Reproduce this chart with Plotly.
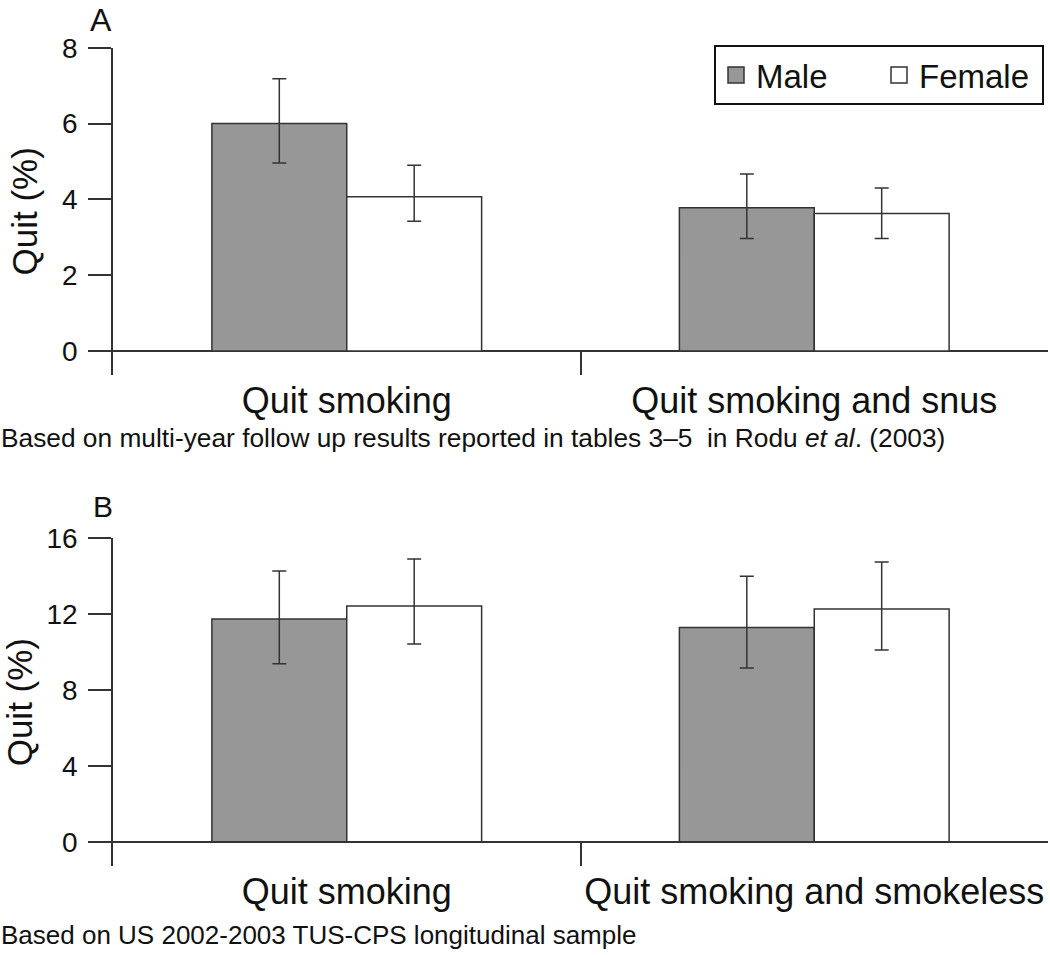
import plotly.graph_objects as go

# ---------------- data ----------------
groups = ["Male", "Female"]
cats_a = ["Quit smoking", "Quit smoking and snus"]
male_a = [6.0, 3.78]
male_a_upper = [7.18, 4.67]
male_a_lower = [4.96, 2.97]
female_a = [4.07, 3.63]
female_a_upper = [4.90, 4.30]
female_a_lower = [3.42, 2.97]

cats_b = ["Quit smoking", "Quit smoking and smokeless"]
male_b = [11.75, 11.29]
male_b_upper = [14.28, 14.00]
male_b_lower = [9.39, 9.16]
female_b = [12.43, 12.27]
female_b_upper = [14.91, 14.75]
female_b_lower = [10.43, 10.11]

yticks_a = [0, 2, 4, 6, 8]
yticks_b = [0, 4, 8, 12, 16]

caption_a = "Based on multi-year follow up results reported in tables 3\u20135\u00a0 in Rodu <i>et al</i>. (2003)"
caption_b = "Based on US 2002-2003 TUS-CPS longitudinal sample"

# ---------------- style ----------------
FONT = "Liberation Sans, Arial, Helvetica, sans-serif"
DARK = "#333333"
TXT = "#111111"
MALE_FILL = "#979797"
FEMALE_FILL = "#ffffff"
fills = {"Male": MALE_FILL, "Female": FEMALE_FILL}

W, H = 1050.0, 955.0
L, R = 113, 2
W_PLOT = W - L - R


def px_x(px):
    return (px - L) / W_PLOT


def py(px):
    return 1 - px / H


fig = go.Figure()


def add_bars(cats, vals, upper, lower, name, xa, ya):
    plus = [u - v for u, v in zip(upper, vals)]
    minus = [v - l for v, l in zip(vals, lower)]
    fig.add_trace(go.Bar(
        x=cats, y=vals, name=name, legendgroup=name, showlegend=False,
        marker=dict(color=fills[name], line=dict(color=DARK, width=1.5)),
        error_y=dict(type="data", symmetric=False, array=plus, arrayminus=minus,
                     color=DARK, thickness=1.5, width=7),
        xaxis=xa, yaxis=ya,
    ))


add_bars(cats_a, male_a, male_a_upper, male_a_lower, groups[0], "x", "y")
add_bars(cats_a, female_a, female_a_upper, female_a_lower, groups[1], "x", "y")
add_bars(cats_b, male_b, male_b_upper, male_b_lower, groups[0], "x2", "y2")
add_bars(cats_b, female_b, female_b_upper, female_b_lower, groups[1], "x2", "y2")

# legend entries (larger square swatches than the default bar icon)
for g in groups:
    fig.add_trace(go.Scatter(
        x=[None], y=[None], mode="markers", name=g, legendgroup=g, showlegend=True,
        marker=dict(symbol="square", size=16, color=fills[g], line=dict(color=DARK, width=1.5)),
        xaxis="x", yaxis="y", hoverinfo="skip",
    ))

xaxis_common = dict(
    type="category", range=[-0.5, 1.5], showline=False, showgrid=False, zeroline=False,
    ticks="inside", tickson="boundaries", ticklen=24, tickwidth=1.5, tickcolor=DARK,
    tickfont=dict(size=36, color=TXT, family=FONT), ticklabelstandoff=1, tickangle=0,
    automargin=False, fixedrange=True,
)
yaxis_common = dict(
    showline=True, linecolor=DARK, linewidth=1.5, showgrid=False,
    zeroline=True, zerolinecolor=DARK, zerolinewidth=1.5,
    ticks="outside", ticklen=23, tickwidth=1.5, tickcolor=DARK,
    tickfont=dict(size=28, color=TXT, family=FONT), ticklabelstandoff=5,
    automargin=False, fixedrange=True,
)
ytitle_font = dict(size=35, color=TXT, family=FONT)

fig.update_layout(
    width=W, height=H,
    margin=dict(l=L, r=R, t=0, b=0),
    paper_bgcolor="white", plot_bgcolor="white",
    font=dict(family=FONT, color=TXT),
    barmode="group", bargap=0.423, bargroupgap=0,
    xaxis=dict(domain=[0, 1], anchor="y", **xaxis_common),
    yaxis=dict(domain=[py(375), py(47.7)], anchor="x", range=[-0.633, 8],
               tickvals=yticks_a, title=dict(text="Quit (%)", font=ytitle_font, standoff=14),
               **yaxis_common),
    xaxis2=dict(domain=[0, 1], anchor="y2", **xaxis_common),
    yaxis2=dict(domain=[py(866), py(538.3)], anchor="x2", range=[-1.28, 16],
                tickvals=yticks_b, title=dict(text="Quit (%)", font=ytitle_font, standoff=16),
                **yaxis_common),
    legend=dict(
        orientation="h", x=px_x(1044), xanchor="right", y=py(45), yanchor="top",
        bordercolor=TXT, borderwidth=2, bgcolor="white",
        font=dict(size=33, color=TXT, family=FONT), entrywidth=118,
        traceorder="normal", itemclick=False, itemdoubleclick=False,
    ),
    annotations=[
        dict(text="A", x=px_x(88), y=py(0), xref="paper", yref="paper", showarrow=False,
             xanchor="left", yanchor="top", font=dict(size=32, family=FONT, color=TXT)),
        dict(text="B", x=px_x(91), y=py(488), xref="paper", yref="paper", showarrow=False,
             xanchor="left", yanchor="top", font=dict(size=30, family=FONT, color=TXT)),
        dict(text=caption_a, x=px_x(-1), y=py(438), xref="paper", yref="paper", showarrow=False,
             xanchor="left", yanchor="middle", font=dict(size=26.3, family=FONT, color=TXT)),
        dict(text=caption_b, x=px_x(-1), y=py(935), xref="paper", yref="paper", showarrow=False,
             xanchor="left", yanchor="middle", font=dict(size=26, family=FONT, color=TXT)),
    ],
)

fig.write_html("out.html", config={"displayModeBar": False},
               post_script="document.body.style.margin='0';")
